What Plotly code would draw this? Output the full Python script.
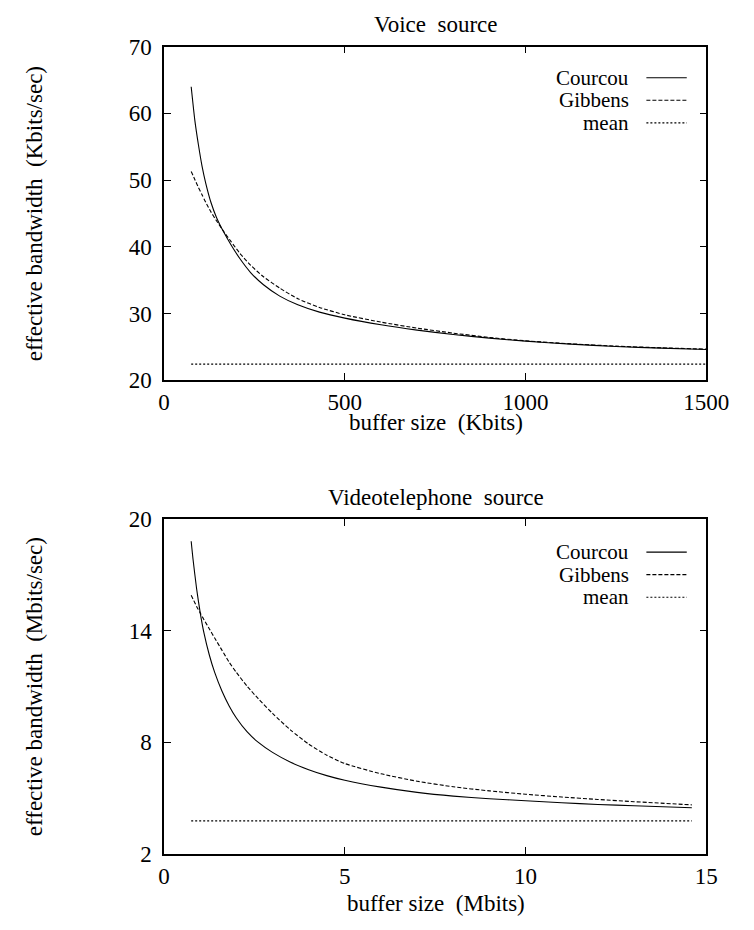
import plotly.graph_objects as go

W, H = 754, 930

# ---------------- data ----------------
voice_buffer = [75, 85, 95, 105, 115, 130, 145, 165, 185, 210, 240, 275, 320, 370, 430,
                500, 600, 700, 800, 900, 1000, 1125, 1250, 1375, 1500]
voice_courcou = [64.0, 59.0, 55.3, 52.1, 49.6, 46.6, 44.4, 42.2, 40.3, 38.2, 36.1, 34.3, 32.6, 31.3, 30.2,
                 29.3, 28.3, 27.5, 26.85, 26.3, 25.85, 25.4, 25.05, 24.8, 24.6]
voice_gibbens = [51.3, 50.1, 48.9, 47.8, 46.7, 45.2, 43.9, 42.3, 40.8, 39.0, 37.2, 35.5, 33.8, 32.2, 30.9,
                 29.8, 28.7, 27.8, 27.05, 26.4, 25.9, 25.45, 25.1, 24.85, 24.65]
voice_mean_x = [75, 1500]
voice_mean = [22.4, 22.4]

video_buffer = [0.75, 0.8, 0.9, 1.0, 1.1, 1.25, 1.4, 1.6, 1.8, 2.0, 2.3, 2.6, 3.0, 3.5, 4.0, 4.5,
                5, 6, 7, 8, 9, 10, 11, 12, 13, 14.6]
video_courcou = [18.8, 17.85, 16.25, 14.95, 13.9, 12.7, 11.75, 10.75, 9.95, 9.3, 8.55, 8.0, 7.45, 6.92, 6.52, 6.2,
                 5.95, 5.58, 5.3, 5.1, 4.96, 4.85, 4.74, 4.65, 4.58, 4.47]
video_gibbens = [15.9, 15.7, 15.3, 14.95, 14.6, 14.1, 13.6, 12.95, 12.3, 11.75, 11.0, 10.35, 9.55, 8.65, 7.9, 7.3,
                 6.85, 6.3, 5.9, 5.6, 5.38, 5.2, 5.05, 4.92, 4.8, 4.63]
video_mean_x = [0.75, 14.6]
video_mean = [3.77, 3.77]

voice_xticks = [0, 500, 1000, 1500]
voice_yticks = [20, 30, 40, 50, 60, 70]
video_xticks = [0, 5, 10, 15]
video_yticks = [2, 8, 14, 20]

series_names = ["Courcou", "Gibbens", "mean"]
FONT = "Liberation Serif"
FS = 23
FS_LEG = 21

def px(x):
    return x / W

def py(y):
    return 1 - y / H

dashes = {"Courcou": "solid", "Gibbens": "4px,2px", "mean": "2px,2px"}

fig = go.Figure()

def add_series(xs, ys, name, xa, ya):
    fig.add_trace(go.Scatter(x=xs, y=ys, mode="lines", name=name, xaxis=xa, yaxis=ya,
                             line=dict(color="black", width=1.1, dash=dashes[name],
                                       shape="spline", smoothing=0.6),
                             showlegend=False))

add_series(voice_buffer, voice_courcou, "Courcou", "x", "y")
add_series(voice_buffer, voice_gibbens, "Gibbens", "x", "y")
add_series(voice_mean_x, voice_mean, "mean", "x", "y")
add_series(video_buffer, video_courcou, "Courcou", "x2", "y2")
add_series(video_buffer, video_gibbens, "Gibbens", "x2", "y2")
add_series(video_mean_x, video_mean, "mean", "x2", "y2")

axis_common = dict(showline=True, linecolor="black", linewidth=1.5, mirror="ticks",
                   ticks="inside", ticklen=7, tickwidth=1, tickcolor="black",
                   showgrid=False, zeroline=False,
                   tickfont=dict(family=FONT, size=FS, color="black"))

xdom = [px(164.4), px(728.3)]
fig.update_layout(
    width=W, height=H, margin=dict(l=0, r=0, t=0, b=0),
    paper_bgcolor="white", plot_bgcolor="white",
    xaxis=dict(domain=xdom, range=[0, 1500], tickvals=voice_xticks, anchor="y",
               ticklabelstandoff=1, **axis_common),
    yaxis=dict(domain=[py(378.3), py(35.7)], range=[20, 70], tickvals=voice_yticks, anchor="x",
               ticklabelstandoff=6, **axis_common),
    xaxis2=dict(domain=xdom, range=[0, 15], tickvals=video_xticks, anchor="y2",
                ticklabelstandoff=1, **axis_common),
    yaxis2=dict(domain=[py(865), py(521)], range=[2, 20], tickvals=video_yticks, anchor="x2",
                ticklabelstandoff=6, **axis_common),
    showlegend=False,
)

def text(x, y, s, xanchor="center", yanchor="middle", angle=0, size=FS):
    fig.add_annotation(x=px(x), y=py(y), xref="paper", yref="paper", text=s, showarrow=False,
                       xanchor=xanchor, yanchor=yanchor, textangle=angle,
                       font=dict(family=FONT, size=size, color="black"))

# titles and axis labels
text(447, 13, "Voice  source")
text(447, 422, "buffer size  (Kbits)")
text(30, 207, "effective bandwidth  (Kbits/sec)", angle=-90)
text(447, 499, "Videotelephone  source")
text(447, 916, "buffer size  (Mbits)")
text(30, 693, "effective bandwidth  (Mbits/sec)", angle=-90)

# legends (text right aligned, sample on the right)
for base in ([67.5, 90.7, 113.9], [555, 578.2, 601.4]):
    for name, yy in zip(series_names, base):
        text(650, yy, name, xanchor="right", size=FS_LEG)
        fig.add_shape(type="line", xref="paper", yref="paper",
                      x0=px(666), x1=px(708), y0=py(yy), y1=py(yy),
                      line=dict(color="black", width=1.1, dash=dashes[name]))

fig.write_html("out.html")
